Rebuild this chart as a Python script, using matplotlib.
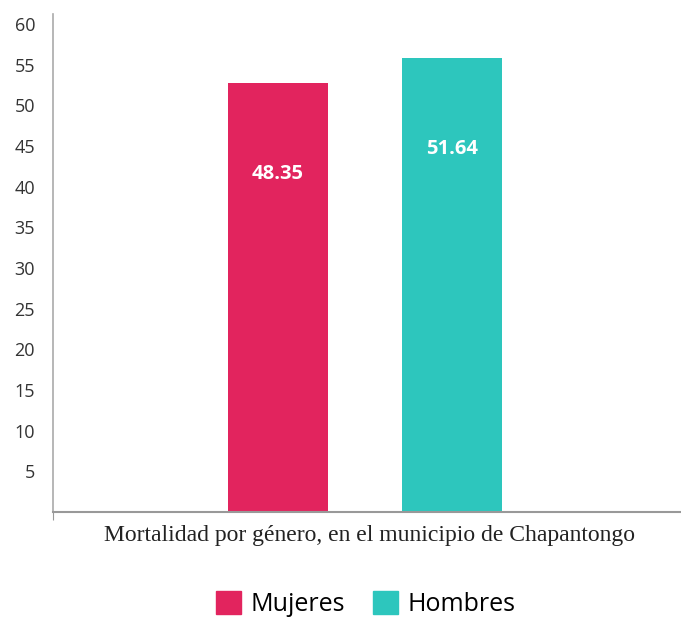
import matplotlib.pyplot as plt
from matplotlib.patches import Patch

categories = ['Mujeres', 'Hombres']
bar_heights = [52.7, 55.8]          # heights as drawn in the picture
labels = ['48.35', '51.64']         # printed values
colors = ['#E2245E', '#2DC6BD']
yticks = [5, 10, 15, 20, 25, 30, 35, 40, 45, 50, 55, 60]

fig = plt.figure(figsize=(6.81, 6.19), dpi=100)
ax = fig.add_axes([0.078, 0.173, 0.922, 0.804])

x = [0, 1]
ax.bar(x, bar_heights, width=0.575, color=colors, zorder=2)
for xi, h, lab in zip(x, bar_heights, labels):
    ax.text(xi, h - 11.2, lab, ha='center', va='center', color='white',
            fontsize=14.5, fontweight='bold', family='Open Sans')

ax.set_xlim(-1.293, 2.316)
ax.set_ylim(0, 61.2)
ax.set_yticks(yticks)
ax.set_yticklabels([str(t) for t in yticks], family='Open Sans', fontsize=13, color='#333333')
ax.tick_params(axis='y', length=0, pad=13)
ax.set_xticks([-1.293])
ax.set_xticklabels([''])
ax.tick_params(axis='x', length=6, color='#999999')

for s in ['top', 'right']:
    ax.spines[s].set_visible(False)
ax.spines['left'].set_color('#aaaaaa')
ax.spines['bottom'].set_color('#999999')
ax.spines['left'].set_linewidth(1.2)
ax.spines['bottom'].set_linewidth(1.5)

fig.text(0.543, 0.135, 'Mortalidad por género, en el municipio de Chapantongo',
         ha='center', va='center', family='Liberation Serif', fontsize=17, color='#222222')

handles = [Patch(color=c, label=l) for c, l in zip(colors, categories)]
fig.legend(handles=handles, loc='center', bbox_to_anchor=(0.537, 0.024), ncol=2,
           frameon=False, prop={'family': 'Open Sans', 'size': 18},
           handlelength=1.0, handleheight=1.0, handletextpad=0.4, columnspacing=1.1)

fig.savefig('out.png', dpi=100)
